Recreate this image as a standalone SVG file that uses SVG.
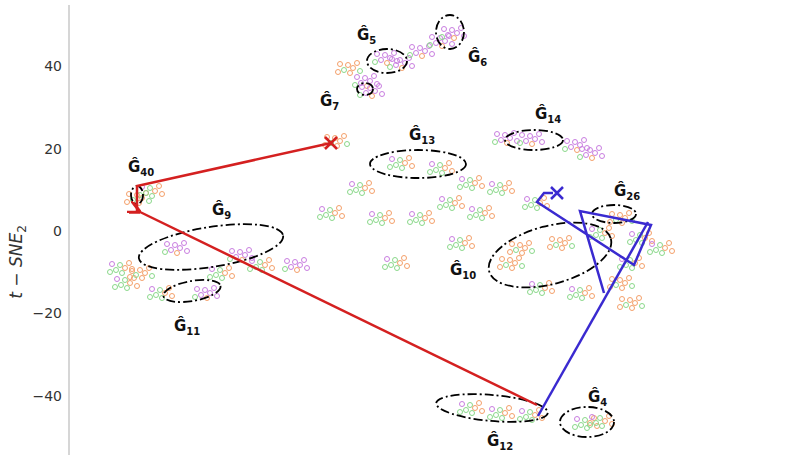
<svg xmlns="http://www.w3.org/2000/svg" xmlns:xlink="http://www.w3.org/1999/xlink" width="808" height="455" viewBox="0 0 808 455">
<style>
.o{fill:none;stroke:#f4a06a;stroke-width:1}
.g{fill:none;stroke:#8ad88a;stroke-width:1}
.p{fill:none;stroke:#c97ee0;stroke-width:1}
.ell{fill:none;stroke:#000;stroke-width:1.8;stroke-dasharray:9,3,2,3}
.lbl{font-family:"DejaVu Sans",sans-serif;font-weight:bold;font-size:15px;fill:#111}
.sub{font-size:10px}
.tick{font-family:"DejaVu Sans",sans-serif;font-size:14px;fill:#333}
.red{fill:none;stroke:#d42020;stroke-width:2.5}
.blue{fill:none;stroke:#3a2ad0;stroke-width:2.5}
</style>
<defs>
<g id="cm">
<circle class="g" cx="0" cy="0" r="2.5"/><circle class="o" cx="5" cy="3" r="2.5"/><circle class="g" cx="-4" cy="5" r="2.5"/><circle class="o" cx="9" cy="-2" r="2.5"/><circle class="g" cx="2" cy="8" r="2.5"/><circle class="p" cx="-8" cy="-1" r="2.5"/><circle class="o" cx="12" cy="6" r="2.5"/><circle class="g" cx="-10" cy="7" r="2.5"/>
</g>
<g id="co">
<circle class="o" cx="0" cy="0" r="2.5"/><circle class="o" cx="5" cy="3" r="2.5"/><circle class="g" cx="-4" cy="5" r="2.5"/><circle class="o" cx="9" cy="-2" r="2.5"/><circle class="o" cx="2" cy="8" r="2.5"/><circle class="o" cx="-8" cy="-1" r="2.5"/><circle class="g" cx="12" cy="6" r="2.5"/><circle class="o" cx="-10" cy="7" r="2.5"/>
</g>
<g id="cp">
<circle class="p" cx="0" cy="0" r="2.5"/><circle class="p" cx="5" cy="3" r="2.5"/><circle class="p" cx="-4" cy="5" r="2.5"/><circle class="p" cx="9" cy="-2" r="2.5"/><circle class="o" cx="2" cy="8" r="2.5"/><circle class="p" cx="-8" cy="-1" r="2.5"/><circle class="p" cx="12" cy="6" r="2.5"/><circle class="g" cx="-10" cy="7" r="2.5"/>
</g>
<marker id="ar" viewBox="0 0 10 10" refX="2" refY="5" markerWidth="5" markerHeight="5" orient="auto"><path d="M10,0 L0,5 L10,10" fill="none" stroke="#d42020" stroke-width="2.5"/></marker>
</defs>
<rect width="808" height="455" fill="#fff"/>
<line x1="69" y1="5" x2="69" y2="455" stroke="#bbb" stroke-width="1.2"/>
<g class="tick" text-anchor="end">
<text x="62" y="71">40</text><text x="62" y="154">20</text><text x="62" y="236">0</text><text x="62" y="318">−20</text><text x="62" y="401">−40</text>
</g>
<text transform="translate(22,262) rotate(-90)" font-family="DejaVu Sans,sans-serif" font-size="17" fill="#333" text-anchor="middle"><tspan font-style="italic">t</tspan> − <tspan font-style="italic">SNE</tspan><tspan font-size="12" dy="4">2</tspan></text>
<g id="points">
<use href="#cp" x="385" y="55"/><use href="#cp" x="400" y="60"/><use href="#cp" x="420" y="48"/><use href="#cp" x="440" y="38"/><use href="#cp" x="452" y="30"/><use href="#cp" x="365" y="78"/><use href="#co" x="348" y="65"/><use href="#cp" x="370" y="88"/>
<use href="#cp" x="505" y="135"/><use href="#cp" x="530" y="136"/><use href="#cp" x="575" y="142"/><use href="#cp" x="590" y="150"/>
<use href="#cm" x="400" y="160"/><use href="#cm" x="440" y="165"/><use href="#cm" x="470" y="180"/><use href="#cm" x="360" y="185"/><use href="#cm" x="450" y="200"/><use href="#cm" x="420" y="215"/><use href="#cm" x="380" y="215"/><use href="#cm" x="395" y="260"/><use href="#cm" x="330" y="210"/><use href="#cm" x="480" y="210"/><use href="#cm" x="500" y="185"/><use href="#cm" x="535" y="200"/><use href="#cm" x="460" y="240"/>
<use href="#co" x="520" y="245"/><use href="#co" x="510" y="260"/><use href="#co" x="560" y="240"/><use href="#cm" x="600" y="230"/><use href="#cm" x="640" y="235"/><use href="#cm" x="660" y="245"/><use href="#co" x="620" y="280"/><use href="#co" x="630" y="300"/><use href="#cm" x="580" y="290"/><use href="#cm" x="540" y="285"/><use href="#co" x="620" y="215"/><use href="#cm" x="630" y="260"/>
<use href="#cm" x="120" y="265"/><use href="#cm" x="125" y="280"/><use href="#co" x="140" y="270"/><use href="#cp" x="175" y="245"/><use href="#cm" x="160" y="290"/><use href="#cp" x="205" y="290"/><use href="#cp" x="240" y="252"/><use href="#cm" x="260" y="262"/><use href="#cm" x="220" y="270"/><use href="#cp" x="295" y="262"/>
<use href="#co" x="137" y="195"/><use href="#cm" x="150" y="188"/><use href="#co" x="335" y="138"/>
<use href="#cm" x="470" y="405"/><use href="#cm" x="500" y="410"/><use href="#cm" x="530" y="412"/><use href="#cm" x="585" y="420"/><use href="#cm" x="600" y="418"/>
</g>
<g id="ellipses">
<ellipse class="ell" cx="387" cy="61" rx="20" ry="12"/>
<ellipse class="ell" cx="450" cy="32" rx="14" ry="17"/>
<ellipse class="ell" cx="365" cy="89" rx="8" ry="6"/>
<ellipse class="ell" cx="418" cy="164" rx="48" ry="14"/>
<ellipse class="ell" cx="534" cy="140" rx="29" ry="10"/>
<ellipse class="ell" cx="211" cy="247" rx="73" ry="20" transform="rotate(-9 211 247)"/>
<ellipse class="ell" cx="192" cy="291" rx="29" ry="10" transform="rotate(-10 192 291)"/>
<ellipse class="ell" cx="137" cy="195" rx="6" ry="9"/>
<ellipse class="ell" cx="550" cy="255" rx="63" ry="29" transform="rotate(-15 550 255)"/>
<ellipse class="ell" cx="614" cy="214" rx="22" ry="9"/>
<ellipse class="ell" cx="492" cy="408" rx="56" ry="13" transform="rotate(5 492 408)"/>
<ellipse class="ell" cx="587" cy="422" rx="27" ry="15"/>
</g>
<g id="connectors">
<polyline class="red" points="331,143 137,186 137,212"/>
<line class="red" x1="537" y1="405" x2="138" y2="211" marker-end="url(#ar)"/>
<path class="red" d="M325,137 L337,149 M337,137 L325,149"/>
<polyline class="blue" points="538,416 648,222"/>
<polyline class="blue" points="604,293 580,211 651,225 634,265 537,202 544,193 553,193"/>
<path class="blue" d="M551,187 L563,199 M563,187 L551,199"/>
</g>
<g class="lbl">
<text x="357" y="40">Ĝ<tspan class="sub" dy="4">5</tspan></text>
<text x="468" y="62">Ĝ<tspan class="sub" dy="4">6</tspan></text>
<text x="320" y="106">Ĝ<tspan class="sub" dy="4">7</tspan></text>
<text x="409" y="140">Ĝ<tspan class="sub" dy="4">13</tspan></text>
<text x="535" y="119">Ĝ<tspan class="sub" dy="4">14</tspan></text>
<text x="128" y="172">Ĝ<tspan class="sub" dy="4">40</tspan></text>
<text x="212" y="215">Ĝ<tspan class="sub" dy="4">9</tspan></text>
<text x="450" y="275">Ĝ<tspan class="sub" dy="4">10</tspan></text>
<text x="614" y="196">Ĝ<tspan class="sub" dy="4">26</tspan></text>
<text x="174" y="331">Ĝ<tspan class="sub" dy="4">11</tspan></text>
<text x="487" y="446">Ĝ<tspan class="sub" dy="4">12</tspan></text>
<text x="588" y="402">Ĝ<tspan class="sub" dy="4">4</tspan></text>
</g>
</svg>
